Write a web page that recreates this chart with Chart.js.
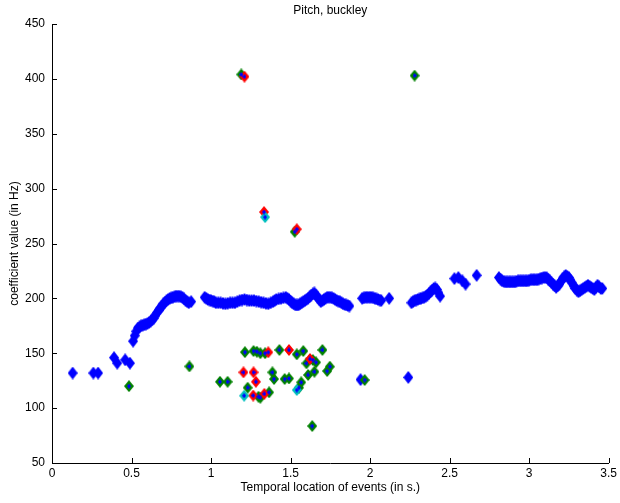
<!DOCTYPE html>
<html>
<head>
<meta charset="utf-8">
<script src="https://cdn.jsdelivr.net/npm/chart.js@4.4.0/dist/chart.umd.min.js"></script>
<style>
  html, body { margin: 0; padding: 0; background: #fff; }
  #wrap { width: 620px; height: 503px; }
</style>
</head>
<body>
<div id="wrap"><canvas id="pitchChart" width="620" height="503"></canvas></div>
<script>
// pitch contour (blue): [time in s, Hz]
var pitchTrack = [
  [0.13,132],[0.26,132],[0.29,132],[0.39,146],[0.41,141],[0.46,144],[0.49,141],
  [0.51,161],[0.52,166],[0.53,170],[0.54,173],[0.55,174],[0.56,175],[0.57,175.5],[0.58,176],
  [0.59,176.5],[0.60,177],[0.61,178],[0.62,179],[0.63,180.5],[0.64,182],[0.65,184.5],[0.66,187],
  [0.67,189],[0.68,191],[0.69,193],[0.70,195],[0.71,196.5],[0.72,198],[0.73,199],[0.74,200],
  [0.75,200.5],[0.76,201],[0.77,201.5],[0.78,202],[0.79,202],[0.80,202],[0.81,201.5],[0.82,201],
  [0.83,199.5],[0.84,198],[0.85,197],[0.86,196],[0.875,197],
  [0.96,201],[0.97,200],[0.98,199],[0.99,198.5],[1.00,198],[1.01,197.5],[1.02,197],[1.03,196],
  [1.045,196],[1.06,196],[1.075,195.5],[1.09,195],[1.105,195.5],[1.12,196],[1.135,196],[1.15,196],
  [1.165,197],[1.18,198],[1.195,198.5],[1.21,199],[1.225,198.5],[1.24,198],[1.255,198],[1.27,198],
  [1.285,197.5],[1.30,197],[1.315,196.5],[1.33,196],[1.345,195.5],[1.36,195],[1.375,196],[1.39,197],
  [1.40,198],[1.41,199],[1.425,199.5],[1.44,200],[1.455,200.5],[1.47,201],[1.48,200],[1.49,199],
  [1.50,197.5],[1.51,196],[1.52,195],[1.53,194],[1.54,194],[1.55,194],[1.56,195],[1.57,196],
  [1.58,197],[1.59,198],[1.60,199],[1.61,200],[1.62,201.5],[1.63,203],[1.64,204],[1.65,205],
  [1.66,203],[1.67,201],[1.68,199],[1.69,197],[1.70,198],[1.71,199],[1.72,200],[1.73,201],
  [1.74,201],[1.75,201],[1.76,200.5],[1.77,200],[1.78,199],[1.79,198],[1.80,197.5],[1.81,197],
  [1.82,196],[1.83,195],[1.84,194.5],[1.85,194],[1.86,193.5],[1.87,193],
  [1.94,126],
  [1.95,200],[1.96,200.5],[1.97,201],[1.98,201],[1.99,201],[2.00,201],[2.01,201],[2.02,200.5],
  [2.03,200],[2.04,199.5],[2.05,199],[2.06,198.5],[2.07,198],[2.12,200],
  [2.24,128],
  [2.26,196],[2.27,197],[2.28,198],[2.29,198.5],[2.30,199],[2.31,199.5],[2.32,200],[2.33,200.5],
  [2.34,201],[2.35,202],[2.36,203],[2.37,204.5],[2.38,206],[2.39,207.5],[2.40,209],[2.41,209.5],
  [2.42,208],[2.43,205],[2.44,202],
  [2.53,218],[2.555,219],[2.58,216],[2.60,213],[2.67,221],
  [2.81,219],[2.82,217.5],[2.83,216],[2.84,215.5],[2.85,215],[2.86,215],[2.87,215],[2.88,215],
  [2.89,215],[2.90,215],[2.91,215],[2.92,215.5],[2.93,216],[2.94,216],[2.95,216],[2.96,216],
  [2.97,216],[2.98,216],[2.99,216],[3.00,216.5],[3.01,217],[3.02,217],[3.03,217],[3.04,217],
  [3.05,217],[3.06,217.5],[3.07,218],[3.08,218.5],[3.09,219],[3.10,219],[3.11,219],[3.12,217.5],
  [3.13,216],[3.14,214.5],[3.15,213],[3.16,211.5],[3.17,210],[3.18,211.5],[3.19,213],[3.20,215.5],
  [3.21,218],[3.22,219.5],[3.23,221],[3.24,220],[3.25,219],[3.26,216.5],[3.27,214],[3.28,211.5],
  [3.29,209],[3.30,207.5],[3.31,206],[3.32,207],[3.33,208],[3.34,209],[3.35,210],[3.36,211],
  [3.37,212],[3.38,211],[3.39,210],[3.40,209],[3.41,208],[3.42,210],[3.43,212],[3.44,210.5],
  [3.45,209],[3.46,209]
];

// coefficient events
var greenEvents = [
  [0.484,120],[0.864,138],[1.056,124],[1.104,124],[1.19,404],[1.213,151],[1.23,118.6],
  [1.267,152],[1.288,151.4],[1.31,150],[1.298,110.4],[1.31,109.5],[1.34,150],[1.365,114.4],
  [1.386,132.6],[1.396,126.5],[1.43,153],[1.463,126.5],[1.49,127],[1.526,260.7],[1.539,149],
  [1.553,118.6],[1.567,123.5],[1.58,152],[1.60,140.8],[1.61,130.2],[1.64,143.8],[1.65,133.2],
  [1.66,141.7],[1.636,83.7],[1.70,153],[1.73,133.8],[1.747,137.8],[1.966,125.6],[2.28,403]
];
var redEvents = [
  [1.21,402],[1.204,132.6],[1.267,132.6],[1.282,124],[1.265,111.5],[1.335,113],
  [1.333,278.7],[1.36,150.9],[1.49,153],[1.539,263],[1.622,144.8]
];
var cyanEvents = [
  [1.34,274],[1.208,111.3],[1.539,116.5]
];

var xTicks = [0, 0.5, 1, 1.5, 2, 2.5, 3, 3.5];
var yTicks = [50, 100, 150, 200, 250, 300, 350, 400, 450];

function toXY(list) {
  return list.map(function (p) { return { x: p[0], y: p[1] }; });
}

function diamond(color, w, h) {
  var c = document.createElement('canvas');
  c.width = w; c.height = h;
  var g = c.getContext('2d');
  g.fillStyle = color;
  g.beginPath();
  g.moveTo(w / 2, 0);
  g.lineTo(w, h / 2);
  g.lineTo(w / 2, h);
  g.lineTo(0, h / 2);
  g.closePath();
  g.fill();
  return c;
}

var FONT = "'Liberation Sans', Arial, Helvetica, sans-serif";

// matlab-ish inward ticks + title over the axes
var matlabAxes = {
  id: 'matlabAxes',
  afterDraw: function (chart) {
    var ctx = chart.ctx, a = chart.chartArea;
    var xs = chart.scales.x, ys = chart.scales.y;
    ctx.save();
    ctx.strokeStyle = '#000';
    ctx.lineWidth = 1;
    ctx.beginPath();
    xTicks.forEach(function (v) {
      var px = Math.round(xs.getPixelForValue(v)) + 0.5;
      ctx.moveTo(px, a.bottom);
      ctx.lineTo(px, a.bottom - 5);
    });
    yTicks.forEach(function (v) {
      var py = Math.round(ys.getPixelForValue(v)) + 0.5;
      ctx.moveTo(a.left, py);
      ctx.lineTo(a.left + 5, py);
    });
    ctx.stroke();
    ctx.fillStyle = '#000';
    ctx.font = '12px ' + FONT;
    ctx.textAlign = 'center';
    ctx.textBaseline = 'middle';
    ctx.fillText('Pitch, buckley', (a.left + a.right) / 2, 11);
    ctx.restore();
  }
};

var allEvents = greenEvents.concat(redEvents, cyanEvents);

new Chart(document.getElementById('pitchChart'), {
  type: 'scatter',
  data: {
    datasets: [
      { label: 'centres', data: toXY(allEvents), pointStyle: diamond('#0000ff', 4, 5), order: 0 },
      { label: 'cyan', data: toXY(cyanEvents), pointStyle: diamond('#00bfbf', 10, 12), order: 1 },
      { label: 'red', data: toXY(redEvents), pointStyle: diamond('#ff0000', 10, 12), order: 2 },
      { label: 'green', data: toXY(greenEvents), pointStyle: diamond('#008000', 10, 12), order: 3 },
      { label: 'pitch', data: toXY(pitchTrack), pointStyle: diamond('#0000ff', 10, 13), order: 4 }
    ]
  },
  options: {
    responsive: false,
    animation: false,
    events: [],
    layout: { padding: { top: 24, right: 10, left: 0, bottom: 0 } },
    plugins: { legend: { display: false }, tooltip: { enabled: false }, title: { display: false } },
    scales: {
      x: {
        type: 'linear',
        min: 0, max: 3.5,
        afterFit: function (s) { s.height = 40; },
        afterBuildTicks: function (s) { s.ticks = xTicks.map(function (v) { return { value: v }; }); },
        grid: { display: false, drawTicks: false },
        border: { display: true, color: '#000', width: 1 },
        ticks: { color: '#000', padding: 3, font: { family: FONT, size: 12 }, maxRotation: 0,
                 callback: function (v) { return String(v); } },
        title: { display: true, text: 'Temporal location of events (in s.)', color: '#000',
                 font: { family: FONT, size: 12 }, padding: { top: 8, bottom: 8 } }
      },
      y: {
        type: 'linear',
        min: 50, max: 450,
        afterFit: function (s) { s.width = 52; },
        afterBuildTicks: function (s) { s.ticks = yTicks.map(function (v) { return { value: v }; }); },
        grid: { display: false, drawTicks: false },
        border: { display: true, color: '#000', width: 1 },
        ticks: { color: '#000', padding: 7, font: { family: FONT, size: 12 } },
        title: { display: true, text: 'coefficient value (in Hz)', color: '#000',
                 font: { family: FONT, size: 12 }, padding: { top: 7, bottom: 7 } }
      }
    }
  },
  plugins: [matlabAxes]
});
</script>
</body>
</html>
